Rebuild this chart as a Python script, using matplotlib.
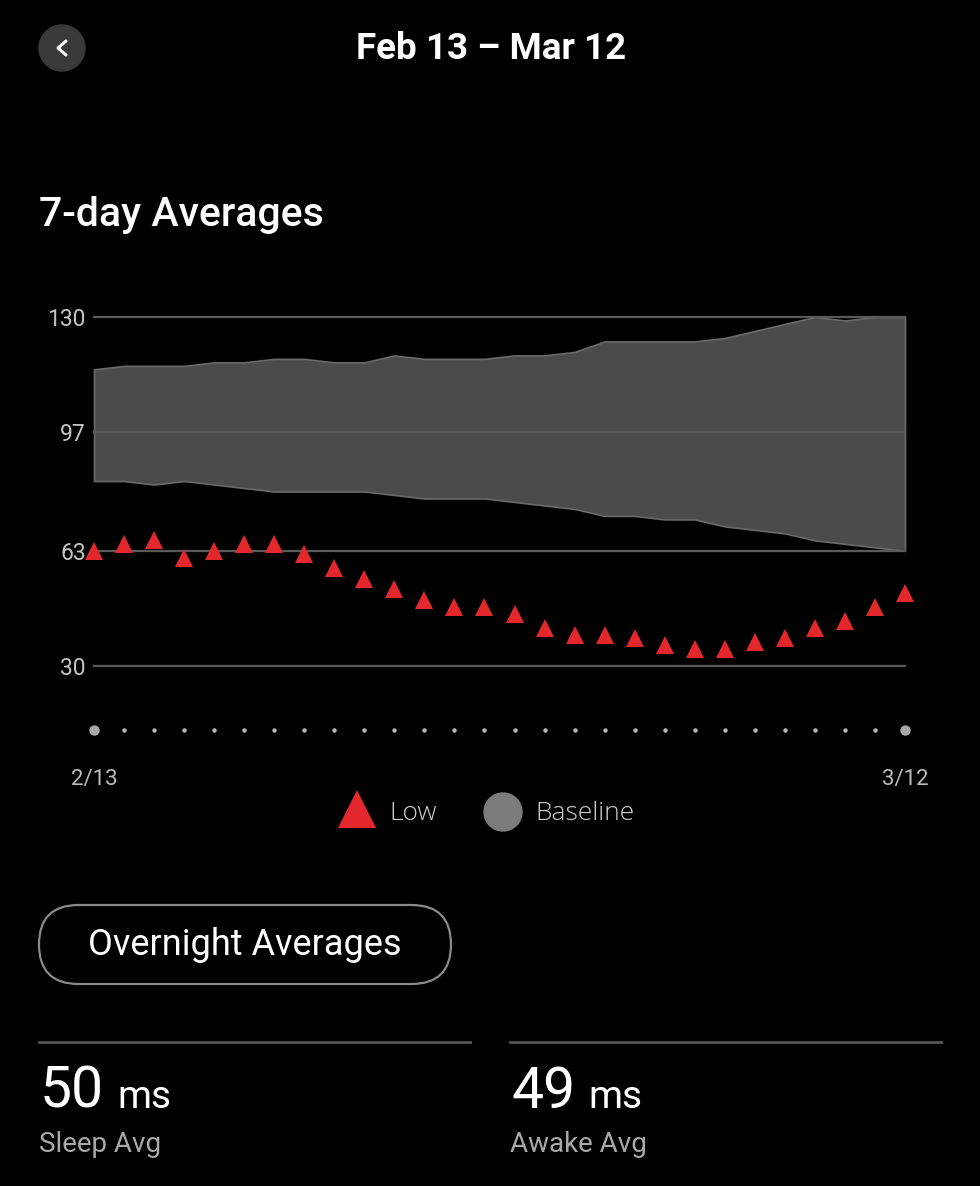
import matplotlib
matplotlib.use("Agg")
import matplotlib.pyplot as plt
from matplotlib.patches import FancyBboxPatch, Circle
import numpy as np

# ---------------- data ----------------
dates = ["2/13", "2/14", "2/15", "2/16", "2/17", "2/18", "2/19", "2/20", "2/21", "2/22",
         "2/23", "2/24", "2/25", "2/26", "2/27", "2/28", "3/1", "3/2", "3/3", "3/4",
         "3/5", "3/6", "3/7", "3/8", "3/9", "3/10", "3/11", "3/12"]
low = [63, 65, 66, 61, 63, 65, 65, 62, 58, 55, 52, 49, 47, 47, 45, 41, 39, 39, 38, 36,
       35, 35, 37, 38, 41, 43, 47, 51]
baseline_upper = [115, 116, 116, 116, 117, 117, 118, 118, 117, 117, 119, 118, 118, 118, 119,
                  119, 120, 123, 123, 123, 123, 124, 126, 128, 130, 129, 130, 130]
baseline_lower = [83, 83, 82, 83, 82, 81, 80, 80, 80, 80, 79, 78, 78, 78, 77, 76, 75, 73,
                  73, 72, 72, 70, 69, 68, 66, 65, 64, 63]
yticks = [30, 63, 97, 130]
title = "Feb 13 \u2013 Mar 12"
section_title = "7-day Averages"
legend_labels = ["Low", "Baseline"]
button_label = "Overnight Averages"
stat_values = ["50", "49"]
stat_units = ["ms", "ms"]
stat_labels = ["Sleep Avg", "Awake Avg"]

# ---------------- figure ----------------
W, H = 980, 1186
DPI = 100
plt.rcParams['font.family'] = ['Roboto', 'DejaVu Sans']
fig = plt.figure(figsize=(W / DPI, H / DPI), dpi=DPI, facecolor="black")

# overlay in pixel coordinates
ov = fig.add_axes([0, 0, 1, 1], zorder=0)
ov.set_xlim(0, W)
ov.set_ylim(H, 0)
ov.axis("off")
ov.patch.set_alpha(0)

# header
ov.add_patch(Circle((62, 48), 23, color="#3a3a3a", zorder=1))
ov.plot([66, 58, 66], [41, 48, 55], color="white", lw=2.2, solid_capstyle="round",
        solid_joinstyle="round", zorder=2)
ov.text(491, 49, title, color="white", fontsize=26.5, fontweight="bold",
        ha="center", va="center")
ov.text(39, 226, section_title, color="white", fontsize=29.5, fontweight="medium",
        ha="left", va="baseline")

# ---------------- chart ----------------
x = np.arange(len(dates))
left_px, right_px = 94, 905
top_px, bot_px = 317, 666
ax = fig.add_axes([left_px / W, 1 - bot_px / H, (right_px - left_px) / W,
                   (bot_px - top_px) / H], zorder=2)
ax.set_facecolor("none")
ax.set_xlim(0, len(dates) - 1)
ax.set_ylim(min(yticks), max(yticks))
for s in ax.spines.values():
    s.set_visible(False)

ax.fill_between(x, baseline_lower, baseline_upper, facecolor="#4b4b4b",
                edgecolor="#6a6a6a", linewidth=1.2, zorder=1, clip_on=False)
for t in yticks:
    ax.axhline(t, color="#5a5a5a", lw=1.6, zorder=2, clip_on=False)
ax.plot(x, low, linestyle="none", marker="^", ms=13, color="#e2282d",
        markeredgewidth=0, zorder=3, clip_on=False)

ax.set_yticks(yticks)
ax.set_yticklabels([str(t) for t in yticks])
ax.tick_params(axis="y", length=0, pad=6, labelcolor="#c4c4c4", labelsize=16.5)
ax.set_xticks([])

# date dot row
axd = fig.add_axes([left_px / W, 1 - 745 / H, (right_px - left_px) / W, 30 / H], zorder=2)
axd.set_facecolor("none")
axd.set_xlim(0, len(dates) - 1)
axd.set_ylim(-1, 1)
for s in axd.spines.values():
    s.set_visible(False)
axd.set_yticks([])
small = x[1:-1]
axd.plot(small, np.zeros_like(small), linestyle="none", marker="o", ms=3.2,
         color="#b8b8b8", markeredgewidth=0, clip_on=False)
ends = [x[0], x[-1]]
axd.plot(ends, [0, 0], linestyle="none", marker="o", ms=7.5, color="#a8a8a8",
         markeredgewidth=0, clip_on=False)
axd.set_xticks(ends)
axd.set_xticklabels([dates[0], dates[-1]])
axd.tick_params(axis="x", length=0, pad=17, labelcolor="#bcbcbc", labelsize=16)

# legend (manual)
ov.plot([357], [809], marker="^", ms=27, color="#e2282d", markeredgewidth=0,
        linestyle="none")
leg_font = dict(color="#d0d0d0", fontsize=19, fontweight="light",
                family=["Open Sans", "DejaVu Sans"], ha="left", va="center")
ov.text(389, 813, legend_labels[0], **leg_font)
ov.add_patch(Circle((503, 812), 19, color="#7c7c7c"))
ov.text(535, 813, legend_labels[1], **leg_font)

# button
ov.add_patch(FancyBboxPatch((39, 905), 412, 79,
                            boxstyle="round,pad=0,rounding_size=39.5",
                            facecolor="black", edgecolor="#8a8a8a", lw=1.6))
ov.text(245, 945, button_label, color="white", fontsize=26, ha="center", va="center")

# stats
for i, (xs, xe) in enumerate([(39, 470), (510, 941)]):
    ov.plot([xs, xe], [1042, 1042], color="#555555", lw=2)
    ov.text(xs + 1, 1108, stat_values[i], color="white", fontsize=41,
            ha="left", va="baseline")
    ov.text(xs + 78, 1108, stat_units[i], color="white", fontsize=28,
            ha="left", va="baseline")
    ov.text(xs, 1152, stat_labels[i], color="#a8a8a8", fontsize=20,
            ha="left", va="baseline")

fig.savefig("out.png", dpi=DPI, facecolor="black")
